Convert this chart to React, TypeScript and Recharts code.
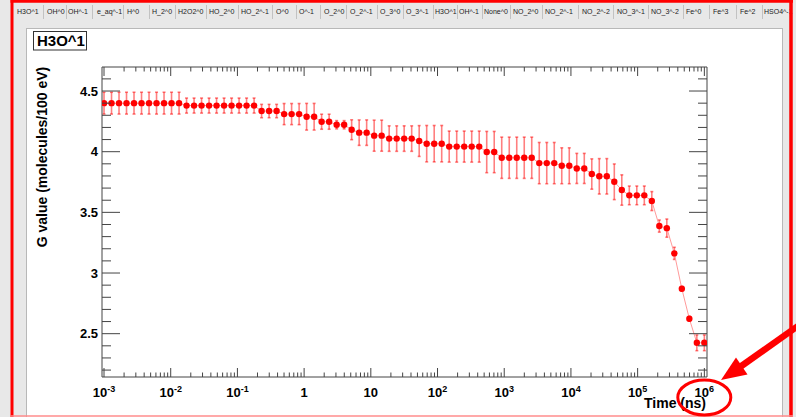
import React from 'react';
import { ComposedChart, Line, ErrorBar, XAxis, YAxis, ReferenceLine } from 'recharts';

// time checkpoints (ns)
const times = [
  1.0e-3, 1.296e-3, 1.679e-3, 2.175e-3, 2.818e-3, 3.652e-3, 4.732e-3, 6.131e-3, 7.943e-3,
  1.029e-2, 1.334e-2, 1.728e-2, 2.239e-2, 2.901e-2, 3.758e-2, 4.87e-2, 6.31e-2, 8.175e-2,
  0.1059, 0.1372, 0.1778, 0.2304, 0.2985, 0.3868, 0.5012, 0.6494, 0.8414,
  1.09, 1.413, 1.83, 2.371, 3.073, 3.981, 5.158, 6.683, 8.66,
  11.22, 14.54, 18.84, 24.41, 31.62, 40.97, 53.09, 68.79, 89.13,
  115.5, 149.6, 193.9, 251.2, 325.5, 421.7, 546.4, 707.9, 917.2,
  1189, 1540, 1995, 2585, 3350, 4340, 5623, 7286, 9441,
  12230, 15850, 20540, 26610, 34480, 44670, 57880, 74990, 97160,
  125900, 163100, 211300, 273800, 354800, 459700, 595700, 771800, 1000000,
];

// G value (molecules/100 eV)
const gValues = [
  4.4, 4.4, 4.4, 4.4, 4.4, 4.4, 4.4, 4.4, 4.4,
  4.4, 4.4, 4.38, 4.38, 4.38, 4.38, 4.38, 4.38, 4.38,
  4.38, 4.38, 4.38, 4.335, 4.335, 4.335, 4.31, 4.31, 4.31,
  4.288, 4.288, 4.247, 4.247, 4.222, 4.222, 4.181, 4.157, 4.157,
  4.132, 4.132, 4.108, 4.108, 4.108, 4.108, 4.088, 4.066, 4.066,
  4.066, 4.042, 4.042, 4.042, 4.042, 4.042, 3.997, 3.997, 3.95,
  3.95, 3.95, 3.95, 3.95, 3.906, 3.906, 3.906, 3.884, 3.884,
  3.862, 3.862, 3.816, 3.797, 3.797, 3.752, 3.684, 3.64, 3.64,
  3.64, 3.593, 3.387, 3.37, 3.162, 2.87, 2.623, 2.425, 2.425,
];

const gErrors = [
  0.09, 0.09, 0.09, 0.09, 0.09, 0.09, 0.09, 0.09, 0.09,
  0.09, 0.09, 0.062, 0.062, 0.062, 0.062, 0.062, 0.062, 0.062,
  0.062, 0.062, 0.062, 0.055, 0.055, 0.055, 0.087, 0.087, 0.087,
  0.11, 0.11, 0.062, 0.062, 0.034, 0.034, 0.082, 0.105, 0.105,
  0.128, 0.128, 0.105, 0.105, 0.105, 0.105, 0.127, 0.15, 0.15,
  0.15, 0.128, 0.128, 0.128, 0.128, 0.128, 0.17, 0.17, 0.17,
  0.17, 0.17, 0.17, 0.17, 0.17, 0.17, 0.17, 0.148, 0.148,
  0.124, 0.124, 0.125, 0.146, 0.146, 0.147, 0.125, 0.077, 0.077,
  0.077, 0.078, 0.05, 0.075, 0.05, 0.02, 0.02, 0.065, 0.065,
];

const xDecades = [-3, -2, -1, 0, 1, 2, 3, 4, 5, 6];

const tabLabels = [
  'H3O^1', 'OH^0', 'OH^-1', 'e_aq^-1', 'H^0', 'H_2^0', 'H2O2^0', 'HO_2^0', 'HO_2^-1',
  'O^0', 'O^-1', 'O_2^0', 'O_2^-1', 'O_3^0', 'O_3^-1', 'H3O^1', 'OH^-1', 'None^0',
  'NO_2^0', 'NO_2^-1', 'NO_2^-2', 'NO_3^-1', 'NO_3^-2', 'Fe^0', 'Fe^3', 'Fe^2', 'HSO4^-1',
];
const tabTextX = [17, 47, 68, 97, 127, 152, 178, 209, 241, 276, 299, 324, 350, 380, 406, 435, 459, 484, 513, 545, 582, 617, 651, 686, 713, 740, 764];
const tabSeps = [43, 66, 92, 123, 149, 175, 206, 238, 272, 296, 320, 346, 377, 403, 433, 457, 482, 510, 542, 578, 613, 648, 683, 709, 736, 762];

const W = 796;
const H = 417;
const PLOT_W = 605;
const PLOT_H = 310;
const FONT = '"Liberation Sans", Arial, Helvetica, sans-serif';
const AXIS = '#444';
const X_DOMAIN = [0.000933, 1096000];
const Y_DOMAIN = [2.143, 4.698];

// major + minor ticks for the log axis
const xTicks: number[] = [];
xDecades.forEach((d) => {
  for (let m = 1; m <= 9; m++) {
    const v = m * Math.pow(10, d);
    if (v >= X_DOMAIN[0] && v <= X_DOMAIN[1]) xTicks.push(v);
  }
});
const yTicks: number[] = [];
for (let k = 22; k <= 46; k++) yTicks.push(k / 10);

const isMajorX = (v: number) => Math.abs(Math.log10(v) - Math.round(Math.log10(v))) < 1e-6;
const isMajorY = (v: number) => Math.abs(v * 2 - Math.round(v * 2)) < 1e-6;

// bottom tick + mirrored tick on the top frame edge (ROOT style, inward)
function BottomTick(props: any) {
  const { x, y, payload } = props;
  const major = isMajorX(payload.value);
  const len = major ? 9 : 4.5;
  const e = Math.round(Math.log10(payload.value));
  return (
    <g>
      <line x1={x} x2={x} y1={y} y2={y - len} stroke={AXIS} />
      <line x1={x} x2={x} y1={y - PLOT_H} y2={y - PLOT_H + len} stroke={AXIS} />
      {major && (
        <text x={x} y={y + 20} textAnchor="middle" fontSize={13} fontWeight="bold" fontFamily={FONT} fill="#000">
          {e === 0 ? '1' : e === 1 ? '10' : (
            <>
              <tspan>10</tspan>
              <tspan dy={-5} fontSize={9}>{String(e)}</tspan>
            </>
          )}
        </text>
      )}
    </g>
  );
}

function LeftTick(props: any) {
  const { x, y, payload } = props;
  const major = isMajorY(payload.value);
  const len = major ? 18 : 9;
  return (
    <g>
      <line x1={x} x2={x + len} y1={y} y2={y} stroke={AXIS} />
      <line x1={x + PLOT_W} x2={x + PLOT_W - len} y1={y} y2={y} stroke={AXIS} />
      {major && (
        <text x={x - 4} y={y + 4.7} textAnchor="end" fontSize={13} fontWeight="bold" fontFamily={FONT} fill="#000">
          {String(payload.value)}
        </text>
      )}
    </g>
  );
}

function Background() {
  return (
    <svg width={W} height={H} style={{ position: 'absolute', left: 0, top: 0 }}>
      <rect x={0} y={0} width={W} height={H} fill="#e8e8e8" />
      {tabSeps.map((sx, i) => (
        <line key={i} x1={sx + 0.5} x2={sx + 0.5} y1={5} y2={19} stroke="#c2c2c2" />
      ))}
      {tabLabels.map((t, i) => (
        <text key={i} x={tabTextX[i]} y={13.5} fontSize={7} fontFamily={FONT} fill="#222">{t}</text>
      ))}
      <rect x={26.5} y={28.5} width={756} height={392} fill="#fff" stroke="#b8b8b8" />
    </svg>
  );
}

function Overlay() {
  return (
    <svg width={W} height={H} style={{ position: 'absolute', left: 0, top: 0, pointerEvents: 'none' }}>
      <rect x={33.5} y={31.5} width={53} height={18.5} fill="#fff" stroke="#333" />
      <text x={37} y={46} fontSize={15} fontWeight="bold" fontFamily={FONT} fill="#000">H3O^1</text>
      <text transform="translate(46.5,157) rotate(-90)" textAnchor="middle" fontSize={14} fontWeight="bold" fontFamily={FONT} fill="#000">
        G value (molecules/100 eV)
      </text>
      <text x={706} y={408} textAnchor="end" fontSize={14} fontWeight="bold" fontFamily={FONT} fill="#000">Time (ns)</text>
      {/* red highlight frame and annotation */}
      <line x1={12} x2={12} y1={0} y2={H} stroke="#ff0000" strokeWidth={3} />
      <line x1={10.5} x2={793} y1={1.3} y2={1.3} stroke="#ff0000" strokeWidth={2.7} />
      <line x1={791} x2={791} y1={0} y2={H} stroke="#ff0000" strokeWidth={3.5} />
      <line x1={10.5} x2={793} y1={416} y2={416} stroke="#ff8c8c" strokeWidth={1.5} />
      <ellipse cx={704.3} cy={397.5} rx={26.5} ry={17.5} fill="none" stroke="#ff0000" strokeWidth={3} />
      <line x1={805} y1={321} x2={740} y2={367} stroke="#ff0000" strokeWidth={6.5} />
      <polygon points="721,380 736,357.5 747.5,374.5" fill="#ff0000" />
    </svg>
  );
}

export default function App() {
  const data = times.map((t, i) => ({ t, g: gValues[i], err: gErrors[i] }));
  return (
    <div style={{ position: 'absolute', left: 0, top: 0, width: W, height: H, overflow: 'hidden' }}>
      <Background />
      <div style={{ position: 'absolute', left: 0, top: 0 }}>
        <ComposedChart width={W} height={H} data={data} margin={{ top: 67, right: 89, bottom: 0, left: 0 }}>
          <XAxis
            xAxisId="b" dataKey="t" type="number" scale="log" domain={X_DOMAIN} allowDataOverflow
            ticks={xTicks} interval={0} tickSize={0} tickMargin={0} tickLine={false}
            axisLine={{ stroke: AXIS }} height={40} tick={<BottomTick />}
          />
          <YAxis
            yAxisId="l" type="number" domain={Y_DOMAIN} allowDataOverflow
            ticks={yTicks} interval={0} tickSize={0} tickMargin={0} tickLine={false}
            axisLine={{ stroke: AXIS }} width={102} tick={<LeftTick />}
          />
          <ReferenceLine xAxisId="b" yAxisId="l" y={Y_DOMAIN[1]} stroke={AXIS} />
          <ReferenceLine xAxisId="b" yAxisId="l" x={X_DOMAIN[1]} stroke={AXIS} />
          <Line
            xAxisId="b" yAxisId="l" type="linear" dataKey="g" stroke="#ff9a9a" strokeWidth={1}
            dot={{ r: 3.2, fill: '#ff0000', stroke: '#ff0000', strokeWidth: 0 }} activeDot={false}
            isAnimationActive={false}
          >
            <ErrorBar dataKey="err" direction="y" width={1.5} stroke="#ff0000" strokeOpacity={0.5} strokeWidth={1.6} />
          </Line>
        </ComposedChart>
      </div>
      <Overlay />
    </div>
  );
}
